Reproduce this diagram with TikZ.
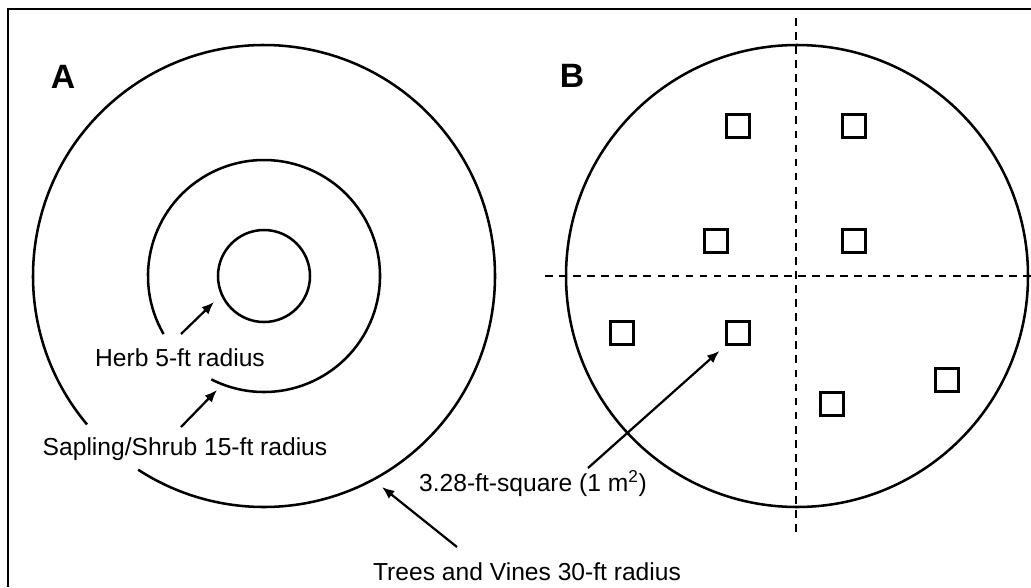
\documentclass[tikz,border=0pt]{standalone}
\usepackage{fontspec}
\setmainfont{Liberation Sans}
\usetikzlibrary{arrows.meta}

\begin{document}
\begin{tikzpicture}[x=0.025cm, y=-0.025cm, >={Latex[length=3.1mm,width=2.5mm]},
  ring/.style={line width=1.8pt},
  plotsq/.style={draw, line width=1.6pt, minimum size=0.575cm, inner sep=0pt},
  lbl/.style={font=\fontsize{17.5}{21}\selectfont, anchor=base, inner sep=0pt},
  panel/.style={font=\fontsize{24}{28}\selectfont\bfseries, anchor=base, inner sep=0pt},
  quarter/.style={line width=1.6pt, dash pattern=on 5.5pt off 4.5pt},
  pointer/.style={->, line width=1.6pt}]
  \useasboundingbox (0,0) rectangle (1031,587);
  % frame (only top and left edges show)
  \draw[line width=1.4pt] (8,587) -- (8,9) -- (1031,9);

  % panel A: nested plot radii, gaps left for the labels
  \coordinate (cA) at (264,276);
  \draw[ring] (cA) circle[radius=46];
  \draw[ring] (cA) ++(150:116) arc[start angle=150, end angle=477, radius=116];
  \draw[ring] (cA) ++(140:231) arc[start angle=140, end angle=483, radius=231];

  \node[panel] (labA) at (63,88) {A};
  \node[lbl] (herb) at (180,366) {Herb 5-ft radius};
  \node[lbl] (shrub) at (185,455) {Sapling/Shrub 15-ft radius};
  \node[lbl] (trees) at (527,580) {Trees and Vines 30-ft radius};

  % label arrows
  \coordinate (herbtail) at (181,334);
  \coordinate (herbtip) at (214,302);
  \coordinate (shrubtail) at (181,427);
  \coordinate (shrubtip) at (217,390);
  \coordinate (treestail) at (457,547);
  \coordinate (treestip) at (382,487);
  \draw[pointer] (herbtail) -- (herbtip);
  \draw[pointer] (shrubtail) -- (shrubtip);
  \draw[pointer] (treestail) -- (treestip);

  % panel B: plot split in quarters with 1 m^2 quadrats
  \coordinate (cB) at (797,276);
  \draw[ring] (cB) circle[radius=231];
  \coordinate (vtop) at (796,18);
  \coordinate (vbot) at (796,533);
  \coordinate (hleft) at (545,276);
  \coordinate (hright) at (1031,276);
  \draw[quarter] (vtop) -- (vbot);
  \draw[quarter] (hleft) -- (hright);

  \node[panel] (labB) at (572,87) {B};

  \node[plotsq] (q1) at (738,126) {};
  \node[plotsq] (q2) at (854,126) {};
  \node[plotsq] (q3) at (716,241) {};
  \node[plotsq] (q4) at (854,241) {};
  \node[plotsq] (q5) at (622,333) {};
  \node[plotsq] (q6) at (738,333) {};
  \node[plotsq] (q7) at (832,404) {};
  \node[plotsq] (q8) at (947,380) {};

  \node[lbl] (sqlbl) at (533,491) {3.28-ft-square (1 m\textsuperscript{2})};
  \coordinate (sqtail) at (588,468);
  \draw[pointer, shorten >=2mm] (sqtail) -- (q6.south west);
\end{tikzpicture}
\end{document}
